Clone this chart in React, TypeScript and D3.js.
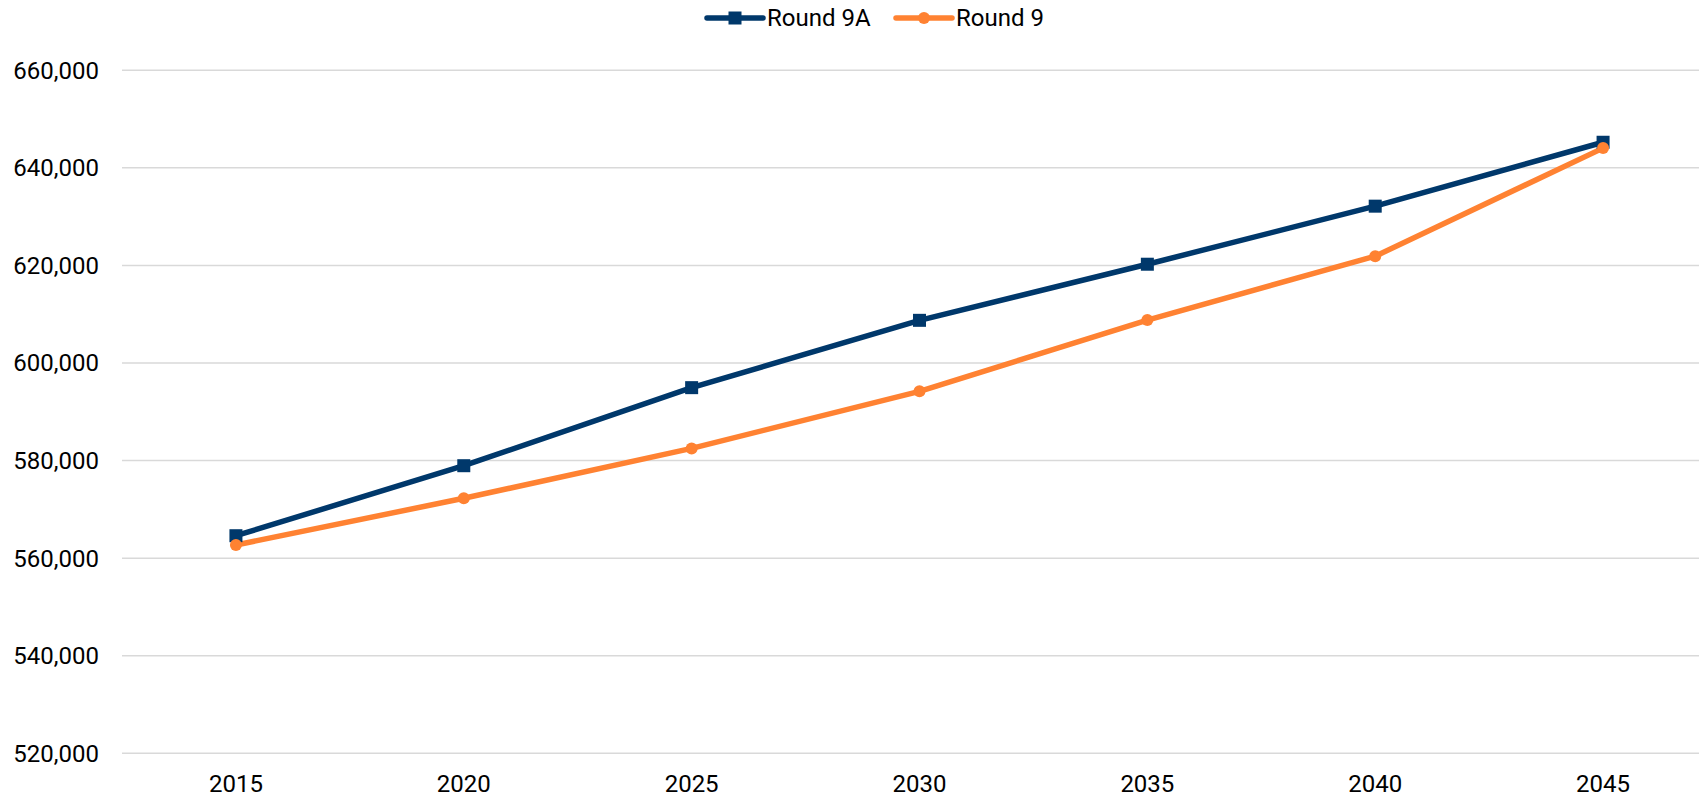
import { useEffect, useRef } from 'react';
import * as d3 from 'd3';

const years = ['2015', '2020', '2025', '2030', '2035', '2040', '2045'];
const round9A = [564600, 578950, 594950, 608750, 620250, 632150, 645250];
const round9 = [562700, 572270, 582500, 594200, 608800, 621900, 644050];
const yTicks = [520000, 540000, 560000, 580000, 600000, 620000, 640000, 660000];

const WIDTH = 1699;
const HEIGHT = 798;
const NAVY = '#00386b';
const ORANGE = '#ff8232';
const FONT = 'Roboto, "Noto Sans", sans-serif';

export default function App() {
  const svgRef = useRef<SVGSVGElement>(null);

  useEffect(() => {
    document.body.style.margin = '0';
    if (!svgRef.current) return;

    const svg = d3.select(svgRef.current);
    svg.selectAll('*').remove();

    const plot = { left: 122, right: 1717, top: 70.3, bottom: 753.3 };

    const xScale = d3.scaleBand<string>()
      .domain(years)
      .range([plot.left, plot.right]);
    const xCenter = (d: string) => (xScale(d) ?? 0) + xScale.bandwidth() / 2;

    const yScale = d3.scaleLinear()
      .domain([520000, 660000])
      .range([plot.bottom, plot.top]);

    const fmt = d3.format(',');

    // gridlines
    svg.append('g')
      .selectAll('line')
      .data(yTicks)
      .join('line')
      .attr('x1', plot.left)
      .attr('x2', plot.right)
      .attr('y1', d => yScale(d))
      .attr('y2', d => yScale(d))
      .attr('stroke', '#d9d9d9')
      .attr('stroke-width', 1.5);

    // y labels
    svg.append('g')
      .selectAll('text')
      .data(yTicks)
      .join('text')
      .attr('x', 99)
      .attr('y', d => yScale(d))
      .attr('dy', '0.35em')
      .attr('text-anchor', 'end')
      .style('font-family', FONT)
      .style('font-size', '24px')
      .style('fill', '#000')
      .text(d => fmt(d));

    // x labels
    svg.append('g')
      .selectAll('text')
      .data(years)
      .join('text')
      .attr('x', d => xCenter(d))
      .attr('y', plot.bottom + 38.5)
      .attr('text-anchor', 'middle')
      .style('font-family', FONT)
      .style('font-size', '24px')
      .style('fill', '#000')
      .text(d => d);

    const line = d3.line<number>()
      .x((_, i) => xCenter(years[i]))
      .y(d => yScale(d));

    // Round 9 (orange) drawn first, 9A on top
    svg.append('path')
      .datum(round9)
      .attr('fill', 'none')
      .attr('stroke', ORANGE)
      .attr('stroke-width', 5.5)
      .attr('stroke-linejoin', 'round')
      .attr('d', line);

    svg.append('path')
      .datum(round9A)
      .attr('fill', 'none')
      .attr('stroke', NAVY)
      .attr('stroke-width', 5.5)
      .attr('stroke-linejoin', 'round')
      .attr('d', line);

    svg.append('g')
      .selectAll('rect')
      .data(round9A)
      .join('rect')
      .attr('x', (_, i) => xCenter(years[i]) - 6.5)
      .attr('y', d => yScale(d) - 6.5)
      .attr('width', 13)
      .attr('height', 13)
      .attr('fill', NAVY);

    svg.append('g')
      .selectAll('circle')
      .data(round9)
      .join('circle')
      .attr('cx', (_, i) => xCenter(years[i]))
      .attr('cy', d => yScale(d))
      .attr('r', 6)
      .attr('fill', ORANGE);

    // legend
    const legend = svg.append('g');
    const items = [
      { label: 'Round 9A', color: NAVY, marker: 'square', x: 707 },
      { label: 'Round 9', color: ORANGE, marker: 'circle', x: 896 },
    ];
    items.forEach(item => {
      const ly = 18;
      legend.append('line')
        .attr('x1', item.x)
        .attr('x2', item.x + 56)
        .attr('y1', ly)
        .attr('y2', ly)
        .attr('stroke', item.color)
        .attr('stroke-width', 5.5)
        .attr('stroke-linecap', 'round');
      if (item.marker === 'square') {
        legend.append('rect')
          .attr('x', item.x + 28 - 6.5)
          .attr('y', ly - 6.5)
          .attr('width', 13)
          .attr('height', 13)
          .attr('fill', item.color);
      } else {
        legend.append('circle')
          .attr('cx', item.x + 28)
          .attr('cy', ly)
          .attr('r', 6)
          .attr('fill', item.color);
      }
      legend.append('text')
        .attr('x', item.x + 60)
        .attr('y', 26)
        .style('font-family', FONT)
        .style('font-size', '24px')
        .style('fill', '#000')
        .text(item.label);
    });
  }, []);

  return (
    <svg
      ref={svgRef}
      width={WIDTH}
      height={HEIGHT}
      style={{ display: 'block', background: '#fff' }}
    />
  );
}
